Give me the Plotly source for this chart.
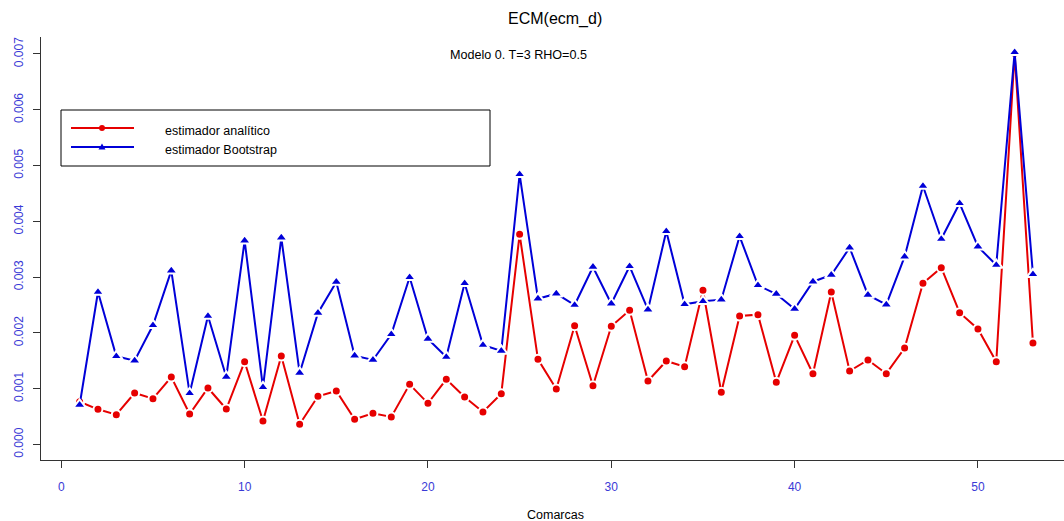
import plotly.graph_objects as go

# ---- data ----
comarcas = list(range(1, 54))
analitico = [
    0.000767, 0.000631, 0.000534, 0.000923, 0.000821, 0.001210, 0.000547, 0.001013, 0.000636, 0.001484,
    0.000421, 0.001586, 0.000362, 0.000864, 0.000959, 0.000452, 0.000559, 0.000493, 0.001079, 0.000738,
    0.001169, 0.000851, 0.000583, 0.000911, 0.003768, 0.001527, 0.000995, 0.002130, 0.001054, 0.002119,
    0.002405, 0.001138, 0.001497, 0.001395, 0.002764, 0.000936, 0.002303, 0.002327, 0.001115, 0.001957,
    0.001269, 0.002733, 0.001317, 0.001515, 0.001269, 0.001730, 0.002889, 0.003169, 0.002362, 0.002070,
    0.001484, 0.007012, 0.001819,
]
bootstrap = [
    0.000708, 0.002733, 0.001581, 0.001502, 0.002136, 0.003116, 0.000918, 0.002303, 0.001210, 0.003653,
    0.001025, 0.003707, 0.001282, 0.002357, 0.002913, 0.001592, 0.001515, 0.001975, 0.002997, 0.001891,
    0.001568, 0.002889, 0.001783, 0.001676, 0.004843, 0.002613, 0.002703, 0.002500, 0.003182, 0.002524,
    0.003194, 0.002416, 0.003821, 0.002513, 0.002567, 0.002596, 0.003732, 0.002853, 0.002698, 0.002429,
    0.002918, 0.003038, 0.003528, 0.002680, 0.002506, 0.003366, 0.004633, 0.003683, 0.004323, 0.003546,
    0.003217, 0.007030, 0.003051,
]
x_ticks = [0, 10, 20, 30, 40, 50]
y_ticks = [0.000, 0.001, 0.002, 0.003, 0.004, 0.005, 0.006, 0.007]
series_names = ["estimador analítico", "estimador Bootstrap"]
title = "ECM(ecm_d)"
subtitle = "Modelo 0. T=3 RHO=0.5"
x_title = "Comarcas"

RED = "#e60000"
BLUE = "#0000d8"
TICKCOL = "#3a3ad6"
FONT = "Liberation Sans, Arial, sans-serif"

# plot area in pixels
L, T, W, H = 41, 37, 1023, 423


def px(p):
    return (p - L) / W


def py(p):
    return (T + H - p) / H


fig = go.Figure()
for yv, col, sym, sz in [(analitico, RED, "circle", 9), (bootstrap, BLUE, "triangle-up", 11)]:
    fig.add_trace(go.Scatter(x=comarcas, y=yv, mode="lines",
                             line=dict(color=col, width=2), showlegend=False))
    fig.add_trace(go.Scatter(x=comarcas, y=yv, mode="markers",
                             marker=dict(color=col, symbol=sym, size=sz,
                                         line=dict(color="white", width=2)),
                             showlegend=False))

shapes = []
annotations = []
# legend box
shapes.append(dict(type="rect", xref="paper", yref="paper",
                   x0=px(61), x1=px(490), y0=py(110), y1=py(166),
                   line=dict(color="black", width=1), fillcolor="white", layer="above"))
for i, (name, col) in enumerate(zip(series_names, [RED, BLUE])):
    yy = [128, 147][i]
    shapes.append(dict(type="line", xref="paper", yref="paper",
                       x0=px(71), x1=px(134), y0=py(yy), y1=py(yy),
                       line=dict(color=col, width=2), layer="above"))
    if i == 0:
        shapes.append(dict(type="circle", xref="paper", yref="paper",
                           x0=px(99), x1=px(105), y0=py(yy - 3), y1=py(yy + 3),
                           fillcolor=col, line=dict(color=col, width=0), layer="above"))
    else:
        path = "M %f %f L %f %f L %f %f Z" % (px(98.5), py(yy + 2.5), px(105.5), py(yy + 2.5),
                                              px(102), py(yy - 3.5))
        shapes.append(dict(type="path", xref="paper", yref="paper", path=path,
                           fillcolor=col, line=dict(color=col, width=0), layer="above"))
    annotations.append(dict(text=name, xref="paper", yref="paper", x=px(163), y=py(yy + 3),
                            xanchor="left", yanchor="middle", showarrow=False,
                            font=dict(family=FONT, size=12.5, color="black")))

annotations.append(dict(text=title, xref="paper", yref="paper", x=px(555), y=py(19),
                        xanchor="center", yanchor="middle", showarrow=False,
                        font=dict(family=FONT, size=16, color="black")))
annotations.append(dict(text=subtitle, xref="paper", yref="paper", x=px(518.5), y=py(55),
                        xanchor="center", yanchor="middle", showarrow=False,
                        font=dict(family=FONT, size=12.6, color="black")))
annotations.append(dict(text=x_title, xref="paper", yref="paper", x=px(555), y=py(515),
                        xanchor="center", yanchor="middle", showarrow=False,
                        font=dict(family=FONT, size=12.5, color="black")))

fig.update_layout(
    width=1064, height=521,
    margin=dict(l=L, r=1064 - L - W, t=T, b=521 - T - H, pad=0),
    paper_bgcolor="white", plot_bgcolor="white",
    font=dict(family=FONT, size=12, color="black"),
    showlegend=False,
    shapes=shapes, annotations=annotations,
    xaxis=dict(range=[(41 - 61.3) / 18.333, (1064 - 61.3) / 18.333],
               tickvals=x_ticks, ticktext=[str(v) for v in x_ticks],
               showgrid=False, zeroline=False, showline=True, linecolor="#333", linewidth=1,
               ticks="outside", ticklen=7, tickcolor="#333", tickwidth=1,
               tickfont=dict(family=FONT, size=12, color=TICKCOL), ticklabelstandoff=9),
    yaxis=dict(range=[(444.5 - 460) / 55.79 * 0.001, (444.5 - 37) / 55.79 * 0.001],
               tickvals=y_ticks, ticktext=["%.3f" % v for v in y_ticks],
               showgrid=False, zeroline=False, showline=True, linecolor="#333", linewidth=1,
               ticks="outside", ticklen=7, tickcolor="#333", tickwidth=1, tickangle=-90,
               tickfont=dict(family=FONT, size=12, color=TICKCOL), ticklabelstandoff=5),
)

fig.write_html("out.html")
